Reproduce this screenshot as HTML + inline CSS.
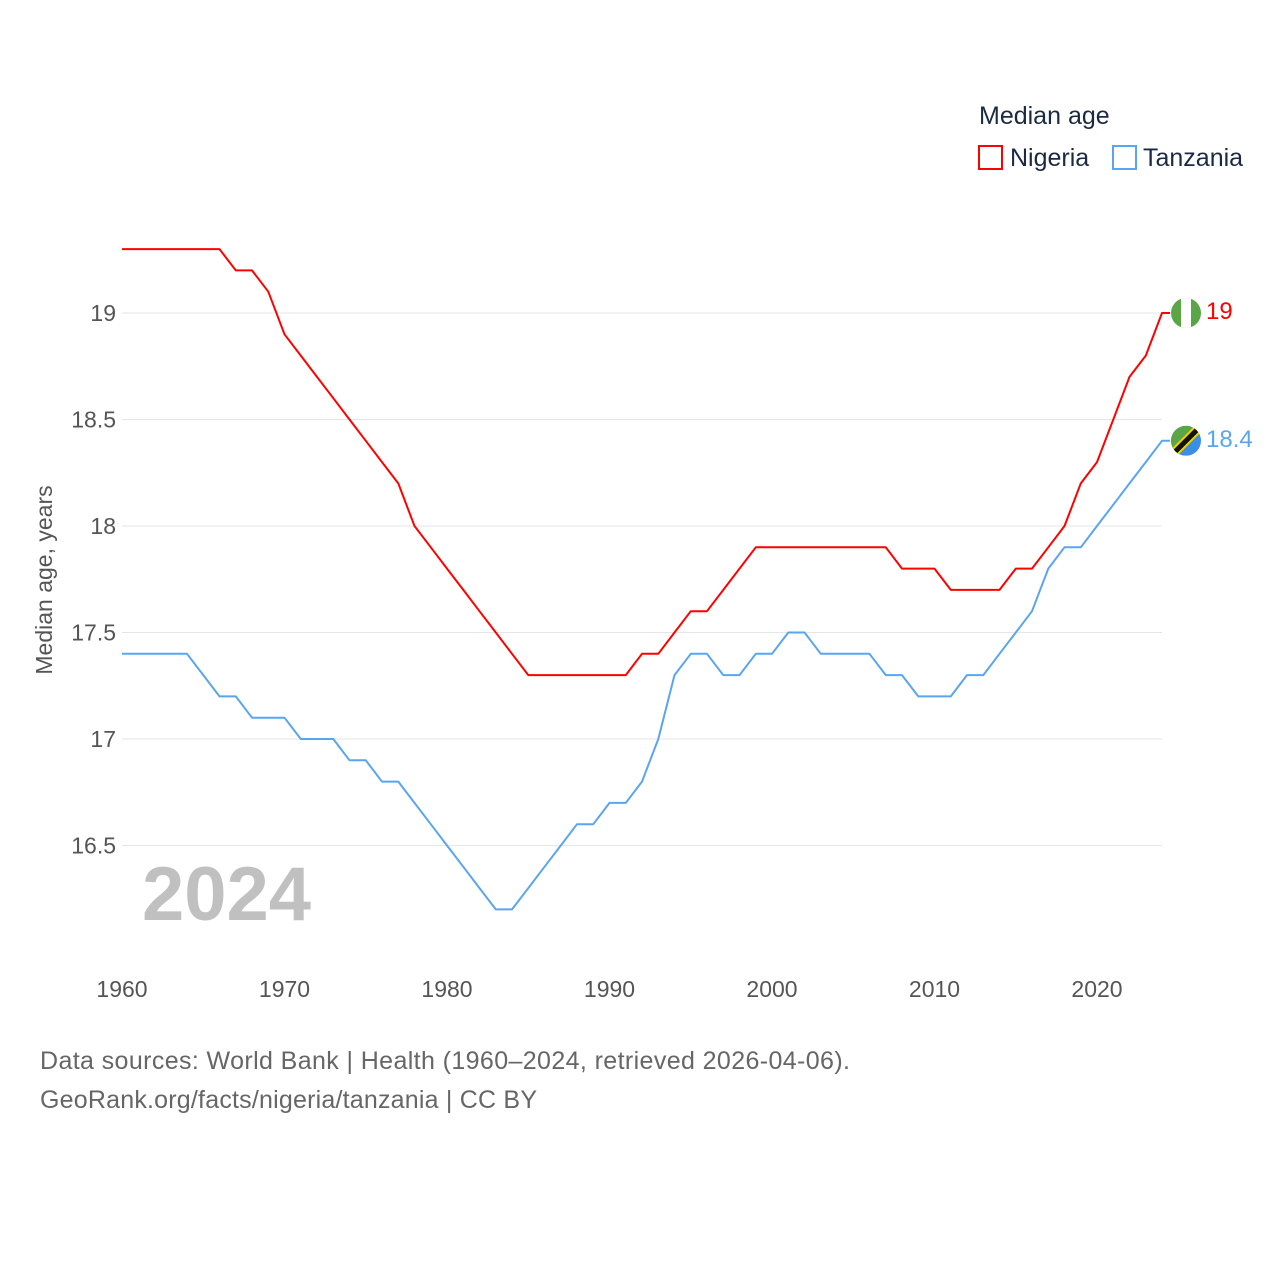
<!DOCTYPE html>
<html><head><meta charset="utf-8"><style>
body{margin:0;background:#fff;}
svg text{font-family:"Liberation Sans",sans-serif;}
</style></head><body>
<svg id="chart" width="1280" height="1280" viewBox="0 0 1280 1280" xmlns="http://www.w3.org/2000/svg">
<g id="grid"></g>
<g id="yticks"></g>
<g id="xticks"></g>
<text x="52" y="580" transform="rotate(-90 52 580)" text-anchor="middle" font-size="23" fill="#555">Median age, years</text>
<text x="142" y="920" font-size="76" font-weight="bold" fill="#c0c0c0">2024</text>
<g id="series"></g>
<g>
<text x="979" y="124" font-size="25" fill="#1a2a44">Median age</text>
<g>
<rect x="979" y="146" width="23" height="23" fill="none" stroke="#f00" stroke-width="2"/>
<text x="1010" y="166" font-size="25" fill="#1a2a44">Nigeria</text></g>
<g>
<rect x="1113" y="146" width="23" height="23" fill="none" stroke="#5aa5ee" stroke-width="2"/>
<text x="1143" y="166" font-size="25" fill="#1a2a44">Tanzania</text></g>
</g>
<text x="40" y="1069" font-size="25" fill="#666" textLength="810">Data sources: World Bank | Health (1960–2024, retrieved 2026-04-06).</text>
<text x="40" y="1108" font-size="25" fill="#666" textLength="497">GeoRank.org/facts/nigeria/tanzania | CC BY</text>
</svg>
<script>
const years = [];
for (let y = 1960; y <= 2024; y++) years.push(y);
const nigeria = [19.3,19.3,19.3,19.3,19.3,19.3,19.3,19.2,19.2,19.1,18.9,18.8,18.7,18.6,18.5,18.4,18.3,18.2,18.0,17.9,17.8,17.7,17.6,17.5,17.4,17.3,17.3,17.3,17.3,17.3,17.3,17.3,17.4,17.4,17.5,17.6,17.6,17.7,17.8,17.9,17.9,17.9,17.9,17.9,17.9,17.9,17.9,17.9,17.8,17.8,17.8,17.7,17.7,17.7,17.7,17.8,17.8,17.9,18.0,18.2,18.3,18.5,18.7,18.8,19.0];
const tanzania = [17.4,17.4,17.4,17.4,17.4,17.3,17.2,17.2,17.1,17.1,17.1,17.0,17.0,17.0,16.9,16.9,16.8,16.8,16.7,16.6,16.5,16.4,16.3,16.2,16.2,16.3,16.4,16.5,16.6,16.6,16.7,16.7,16.8,17.0,17.3,17.4,17.4,17.3,17.3,17.4,17.4,17.5,17.5,17.4,17.4,17.4,17.4,17.3,17.3,17.2,17.2,17.2,17.3,17.3,17.4,17.5,17.6,17.8,17.9,17.9,18.0,18.1,18.2,18.3,18.4];
const yTicks = [16.5,17,17.5,18,18.5,19];
const yTickLabels = ["16.5","17","17.5","18","18.5","19"];
const xTicks = [1960,1970,1980,1990,2000,2010,2020];

const NS = "http://www.w3.org/2000/svg";
const xS = v => 122 + (v - 1960) * 16.25;
const yS = v => 313 + (19 - v) * 213;
function mk(tag, attrs, parent){const e=document.createElementNS(NS,tag);for(const k in attrs)e.setAttribute(k,attrs[k]);parent.appendChild(e);return e;}
const grid=document.getElementById('grid'), yt=document.getElementById('yticks'), xt=document.getElementById('xticks'), ser=document.getElementById('series');
yTicks.forEach((v,i)=>{
  const l=mk('line',{x1:122,x2:1162,y1:yS(v),y2:yS(v),stroke:'#e6e6e6','stroke-width':1},grid);
  
  
  const t=mk('text',{x:116,y:yS(v)+8,'text-anchor':'end','font-size':23,fill:'#555'},yt);
  t.textContent=yTickLabels[i];
  
  
});
xTicks.forEach(v=>{
  const t=mk('text',{x:xS(v),y:997,'text-anchor':'middle','font-size':23,fill:'#555'},xt);
  t.textContent=v;
  
  
});
function drawSeries(vals,color,name,label){
  const last=vals[vals.length-1], lx=xS(years[years.length-1]);
  const d=vals.map((v,i)=>(i?'L':'M')+xS(years[i]).toFixed(1)+' '+yS(v).toFixed(1)).join(' ')+' L'+(lx+8)+' '+yS(last).toFixed(1);
  const p=mk('path',{d:d,fill:'none',stroke:color,'stroke-width':2,'stroke-linejoin':'round'},ser);
  
  
  const t=mk('text',{x:lx+44,y:yS(last)+6,'font-size':24,fill:color},ser);
  t.textContent=label(last);
  
  
  return {x:lx+24,y:yS(last)};
}
const n=drawSeries(nigeria,'#f00','nigeria',v=>String(+v.toFixed(1)));
const t=drawSeries(tanzania,'#5aa5ee','tanzania',v=>String(+v.toFixed(1)));
const fn=mk('g',{},ser);


const cn=mk('clipPath',{id:'cn'},fn);mk('circle',{cx:n.x,cy:n.y,r:15},cn);
const gn=mk('g',{'clip-path':'url(#cn)'},fn);
mk('rect',{x:n.x-15,y:n.y-15,width:30,height:30,fill:'#5aa545'},gn);
mk('rect',{x:n.x-5,y:n.y-15,width:10,height:30,fill:'#fff'},gn);
const ft=mk('g',{},ser);


const ct=mk('clipPath',{id:'ct'},ft);mk('circle',{cx:t.x,cy:t.y,r:15},ct);
const gt=mk('g',{'clip-path':'url(#ct)'},ft);
mk('rect',{x:t.x-15,y:t.y-15,width:30,height:30,fill:'#3a8ee6'},gt);
mk('polygon',{points:`${t.x-15},${t.y-15} ${t.x+15},${t.y-15} ${t.x-15},${t.y+15}`,fill:'#5aa545'},gt);
mk('line',{x1:t.x-15,y1:t.y+15,x2:t.x+15,y2:t.y-15,stroke:'#f5d000','stroke-width':9},gt);
mk('line',{x1:t.x-15,y1:t.y+15,x2:t.x+15,y2:t.y-15,stroke:'#111','stroke-width':5},gt);
</script>
</body></html>
